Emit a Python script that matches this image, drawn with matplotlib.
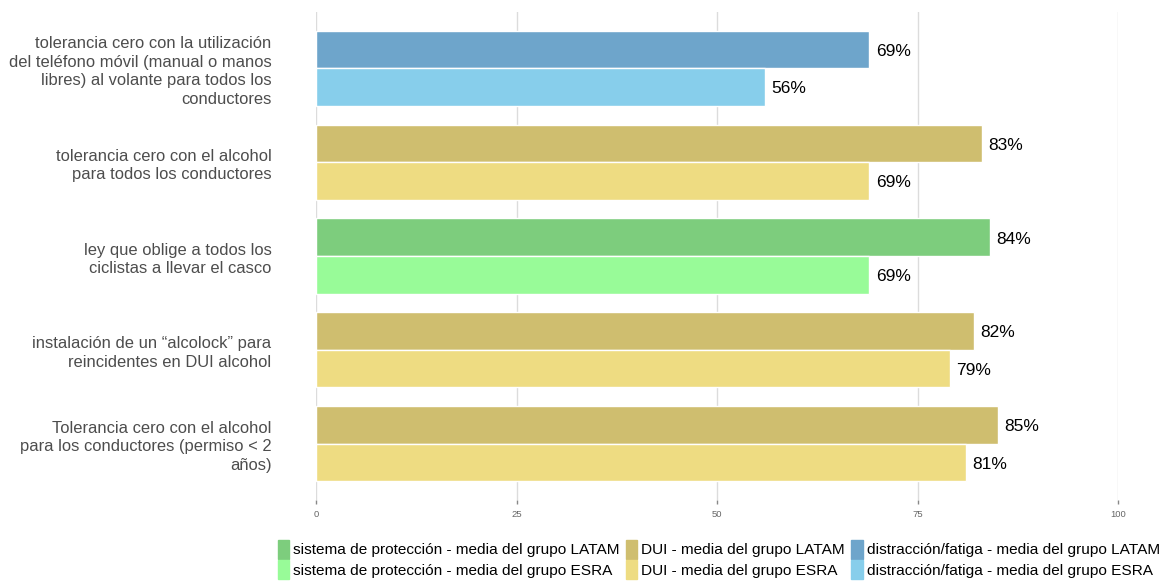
import matplotlib.pyplot as plt
from matplotlib.patches import Patch
import numpy as np

plt.rcParams['font.family'] = ['Liberation Sans', 'DejaVu Sans']

categories = [
    'tolerancia cero con la utilización\ndel teléfono móvil (manual o manos\nlibres) al volante para todos los\nconductores',
    'tolerancia cero con el alcohol\npara todos los conductores',
    'ley que oblige a todos los\nciclistas a llevar el casco',
    'instalación de un \u201calcolock\u201d para\nreincidentes en DUI alcohol',
    'Tolerancia cero con el alcohol\npara los conductores (permiso < 2\naños)',
]
latam = [69, 83, 84, 82, 85]
esra = [56, 69, 69, 79, 81]
group = ['dist', 'dui', 'prot', 'dui', 'dui']

colors = {
    'prot': ('#7dcd7d', '#98fb98'),
    'dui': ('#cfbe6f', '#eedc82'),
    'dist': ('#6ea5cb', '#87ceeb'),
}
legend_names = {
    'prot': 'sistema de protección',
    'dui': 'DUI',
    'dist': 'distracción/fatiga',
}

fig = plt.figure(figsize=(11.63, 5.83), dpi=100)
ax = fig.add_axes([316 / 1163, 1 - 500 / 583, 802 / 1163, 488 / 583])

y = np.arange(len(categories))
h = 0.4
for i in range(len(categories)):
    c1, c2 = colors[group[i]]
    ax.barh(y[i] - h / 2, latam[i], height=h, color=c1, edgecolor='white', linewidth=1, zorder=2)
    ax.barh(y[i] + h / 2, esra[i], height=h, color=c2, edgecolor='white', linewidth=1, zorder=2)
    ax.text(latam[i] + 0.8, y[i] - h / 2 + 0.02, f'{latam[i]}%', va='center', ha='left', fontsize=12.5, color='black')
    ax.text(esra[i] + 0.8, y[i] + h / 2 + 0.02, f'{esra[i]}%', va='center', ha='left', fontsize=12.5, color='black')

ax.set_xlim(0, 100)
ax.set_ylim(len(categories) - 0.4, -0.6)
ax.set_xticks([0, 25, 50, 75, 100])
ax.set_yticks(y)
ax.set_yticklabels(categories, fontsize=11.9, color='#4d4d4d', linespacing=1.28)
ax.tick_params(axis='y', length=0, pad=32)
ax.tick_params(axis='x', length=3, width=1, color='#888888', labelsize=6.8, labelcolor='#666666', pad=4)
ax.grid(axis='x', color='#dcdcdc', linewidth=1, zorder=0)
for s in ax.spines.values():
    s.set_visible(False)

handles = []
for key in ['prot', 'dui', 'dist']:
    handles.append(Patch(color=colors[key][0], label=f'{legend_names[key]} - media del grupo LATAM'))
    handles.append(Patch(color=colors[key][1], label=f'{legend_names[key]} - media del grupo ESRA'))

fig.legend(handles=handles, ncol=3, loc='lower center', bbox_to_anchor=(0.618, -0.017),
           frameon=False, fontsize=11.1, handlelength=0.75, handleheight=1.5,
           handletextpad=0.25, columnspacing=0.4, labelspacing=0.1)

fig.savefig('out.png', dpi=100)
